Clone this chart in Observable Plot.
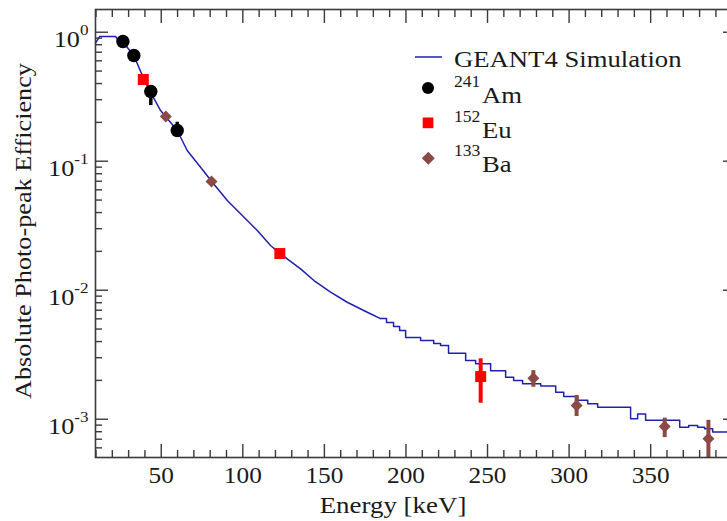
<!DOCTYPE html>
<html><head><meta charset="utf-8">
<script src="https://cdn.jsdelivr.net/npm/d3@7"></script>
<script src="https://cdn.jsdelivr.net/npm/@observablehq/plot@0.6"></script>
<style>
html,body{margin:0;padding:0;background:#fff;overflow:hidden;}
#chart{position:relative;width:727px;height:521px;overflow:hidden;}
#chart svg, #chart svg text{font-family:"Liberation Serif","DejaVu Serif",serif !important;}
</style></head><body><div id="chart"></div>
<script>
// ---- data ----
const simLowE = [9.7, 12.2, 22.0, 23.0, 25.7, 33.2, 39.3, 43.4, 49.6, 59.8, 65.9, 74.1, 81.3, 90.5, 98.6, 108.9, 117.0, 123.1, 135.4, 143.6, 153.8, 164.0, 176.3, 184.4];
const simLowV = [0.822, 0.926, 0.926, 0.889, 0.862, 0.660, 0.435, 0.343, 0.247, 0.173, 0.121, 0.0898, 0.0688, 0.0496, 0.0391, 0.0290, 0.0222, 0.01915, 0.01465, 0.01189, 0.00965, 0.00807, 0.00675, 0.00603];
const simStepE = [184.4, 188.1, 192.4, 196.1, 199.8, 209.0, 217.0, 221.2, 226.1, 236.6, 242.7, 251.9, 261.1, 266.0, 271.5, 282.6, 291.8, 296.7, 305.3, 311.4, 317.5, 337.7, 342.0, 346.9, 367.8, 373.3, 378.8, 383.1, 388.0, 397.2, 402];
const simStepV = [0.00603, 0.00562, 0.00523, 0.00487, 0.00430, 0.00407, 0.00386, 0.00373, 0.00325, 0.00285, 0.00269, 0.00238, 0.00212, 0.00200, 0.00188, 0.00181, 0.00162, 0.00150, 0.00140, 0.00132, 0.00124, 0.00101, 0.00110, 0.000982, 0.000867, 0.000894, 0.000867, 0.000843, 0.000796, 0.000818, 0.000818];

const amE = [26.5, 33.2, 43.6, 59.8];
const amV = [0.847, 0.660, 0.347, 0.173];
const amLo = [null, null, 0.270, 0.158];
const amHi = [null, null, 0.386, 0.2005];

const euE = [39.0, 122.7, 245.8];
const euV = [0.430, 0.01925, 0.00214];
const euLo = [null, null, 0.00133];
const euHi = [null, null, 0.00294];

const baE = [52.8, 80.8, 278.1, 304.6, 358.6, 385.4];
const baV = [0.222, 0.0696, 0.00208, 0.00128, 0.000877, 0.000705];
const baLo = [null, null, 0.00177, 0.00105, 0.00072, 0.0004];
const baHi = [null, null, 0.00238, 0.00153, 0.00102, 0.00098];

const xMajorTicks = [50, 100, 150, 200, 250, 300, 350, 400];
const xTickLabels = [50, 100, 150, 200, 250, 300, 350];
const xMinorTicks = [10, 20, 30, 40, 60, 70, 80, 90, 110, 120, 130, 140, 160, 170, 180, 190, 210, 220, 230, 240, 260, 270, 280, 290, 310, 320, 330, 340, 360, 370, 380, 390];
const yMajorTicks = [1, 0.1, 0.01, 0.001];
const yMajorExp = ["0", "-1", "-2", "-3"];
const yMinorTicks = [0.0006, 0.0007, 0.0008, 0.0009, 0.002, 0.003, 0.004, 0.005, 0.006, 0.007, 0.008, 0.009, 0.02, 0.03, 0.04, 0.05, 0.06, 0.07, 0.08, 0.09, 0.2, 0.3, 0.4, 0.5, 0.6, 0.7, 0.8, 0.9];

const legendSeries = [
  {sup: null, name: "GEANT4 Simulation"},
  {sup: "241", name: "Am"},
  {sup: "152", name: "Eu"},
  {sup: "133", name: "Ba"}
];

// ---- styling ----
const BLUE = "#2020b0", RED = "#ff0000", BROWN = "#8c4a47", AXIS = "#3a3a3a";
const FONT = "Liberation Serif, DejaVu Serif, serif";

const zip = (E, V, lo, hi) => E.map((e, i) => ({e, v: V[i], lo: lo ? lo[i] : null, hi: hi ? hi[i] : null}));
const low = zip(simLowE, simLowV);
const step = zip(simStepE, simStepV);
const am = zip(amE, amV, amLo, amHi);
const eu = zip(euE, euV, euLo, euHi);
const ba = zip(baE, baV, baLo, baHi);
const err = (arr) => arr.filter(d => d.lo != null);

const plot = Plot.plot({
  width: 727, height: 521,
  marginLeft: 95, marginRight: -8, marginTop: 9, marginBottom: 64,
  style: {fontFamily: FONT, fontSize: "23px", color: "#1a1a1a", background: "white"},
  x: {type: "linear", domain: [9.7, 402]},
  y: {type: "log", domain: [5.05e-4, 1.5]},
  marks: [
    Plot.line(low, {x: "e", y: "v", stroke: BLUE, strokeWidth: 1.5}),
    Plot.line(step, {x: "e", y: "v", curve: "step-after", stroke: BLUE, strokeWidth: 1.5}),
    Plot.ruleX(err(am), {x: "e", y1: "lo", y2: "hi", stroke: "black", strokeWidth: 3.5, clip: true}),
    Plot.ruleX(err(eu), {x: "e", y1: "lo", y2: "hi", stroke: RED, strokeWidth: 4, clip: true}),
    Plot.ruleX(err(ba), {x: "e", y1: "lo", y2: "hi", stroke: BROWN, strokeWidth: 4, clip: true}),
    Plot.dot(am, {x: "e", y: "v", symbol: "circle", r: 6.7, fill: "black", stroke: "none"}),
    Plot.dot(eu, {x: "e", y: "v", symbol: "square", r: 6.2, fill: RED, stroke: "none"}),
    Plot.dot(ba, {x: "e", y: "v", symbol: "diamond2", r: 5.4, fill: BROWN, stroke: "none"}),
    Plot.frame({stroke: AXIS, strokeWidth: 1.6}),
    Plot.axisX(xMajorTicks, {anchor: "bottom", tickSize: -13, tickFormat: () => "", label: null, stroke: AXIS, strokeWidth: 1.4}),
    Plot.axisX(xMinorTicks, {anchor: "bottom", tickSize: -7, tickFormat: () => "", label: null, stroke: AXIS, strokeWidth: 1.4}),
    Plot.axisX(xMajorTicks, {anchor: "top", tickSize: -13, tickFormat: () => "", label: null, stroke: AXIS, strokeWidth: 1.4}),
    Plot.axisX(xMinorTicks, {anchor: "top", tickSize: -7, tickFormat: () => "", label: null, stroke: AXIS, strokeWidth: 1.4}),
    Plot.axisX(xTickLabels, {anchor: "bottom", tickSize: 0, tickPadding: 9, label: null, fill: "#1a1a1a"}),
    Plot.axisY(yMajorTicks, {anchor: "left", tickSize: -13, tickFormat: () => "", label: null, stroke: AXIS, strokeWidth: 1.4}),
    Plot.axisY(yMinorTicks, {anchor: "left", tickSize: -7, tickFormat: () => "", label: null, stroke: AXIS, strokeWidth: 1.4}),
    Plot.axisY(yMajorTicks, {anchor: "right", tickSize: -13, tickFormat: () => "", label: null, stroke: AXIS, strokeWidth: 1.4}),
    Plot.axisY(yMinorTicks, {anchor: "right", tickSize: -7, tickFormat: () => "", label: null, stroke: AXIS, strokeWidth: 1.4}),
    Plot.axisY(yMajorTicks, {anchor: "left", tickSize: 0, tickPadding: 7, dy: 7.6, tickFormat: () => "10", label: null, fill: "#1a1a1a"})
  ]
});

document.getElementById("chart").appendChild(plot);
const svg = d3.select(plot);

function stretch(sel, k) {
  sel.each(function () {
    const L = this.getComputedTextLength();
    if (L > 0) { this.setAttribute("textLength", L * k); this.setAttribute("lengthAdjust", "spacingAndGlyphs"); }
  });
}

// superscript exponents on y tick labels
const yLabelTexts = svg.selectAll("g[aria-label='y-axis tick label'] text").filter(function () { return this.textContent === "10"; });
yLabelTexts.each(function (d, i) {
  d3.select(this).append("tspan").attr("dy", -12).attr("font-size", 15).text(yMajorExp[i]);
});
stretch(yLabelTexts, 1.14);
stretch(svg.selectAll("g[aria-label='x-axis tick label'] text").filter(function () { return this.textContent.length > 0; }), 1.1);

// axis titles
const titles = svg.append("g").attr("font-family", FONT).attr("font-size", 23).attr("fill", "#1a1a1a");
const xt = titles.append("text").attr("x", 393).attr("y", 513).attr("text-anchor", "middle").text("Energy [keV]");
const yt = titles.append("text").attr("transform", "translate(31,231) rotate(-90)").attr("text-anchor", "middle").text("Absolute Photo-peak Efficiency");
stretch(xt, 1.17);
stretch(yt, 1.14);

// legend
const lg = svg.append("g").attr("font-family", FONT).attr("fill", "#1a1a1a").attr("text-anchor", "start");
lg.append("line").attr("x1", 415).attr("x2", 442).attr("y1", 57).attr("y2", 57).attr("stroke", BLUE).attr("stroke-width", 1.5);
lg.append("circle").attr("cx", 428).attr("cy", 88).attr("r", 6).attr("fill", "black");
lg.append("rect").attr("x", 422.7).attr("y", 117.5).attr("width", 10.7).attr("height", 10.7).attr("fill", RED);
lg.append("path").attr("d", "M428.3,151.8L434.8,158.3L428.3,164.8L421.8,158.3Z").attr("fill", BROWN);
const gt = lg.append("text").attr("x", 454).attr("y", 67).attr("font-size", 23).text(legendSeries[0].name);
stretch(gt, 1.16);
const rows = [{ys: 86.5, yn: 102.7}, {ys: 121.5, yn: 138}, {ys: 156, yn: 171.5}];
rows.forEach((r, i) => {
  const s = legendSeries[i + 1];
  const st = lg.append("text").attr("x", 454).attr("y", r.ys).attr("font-size", 16).text(s.sup);
  stretch(st, 1.1);
  const nt = lg.append("text").attr("x", 482).attr("y", r.yn).attr("font-size", 23).text(s.name);
  stretch(nt, 1.16);
});
</script>
</body></html>
